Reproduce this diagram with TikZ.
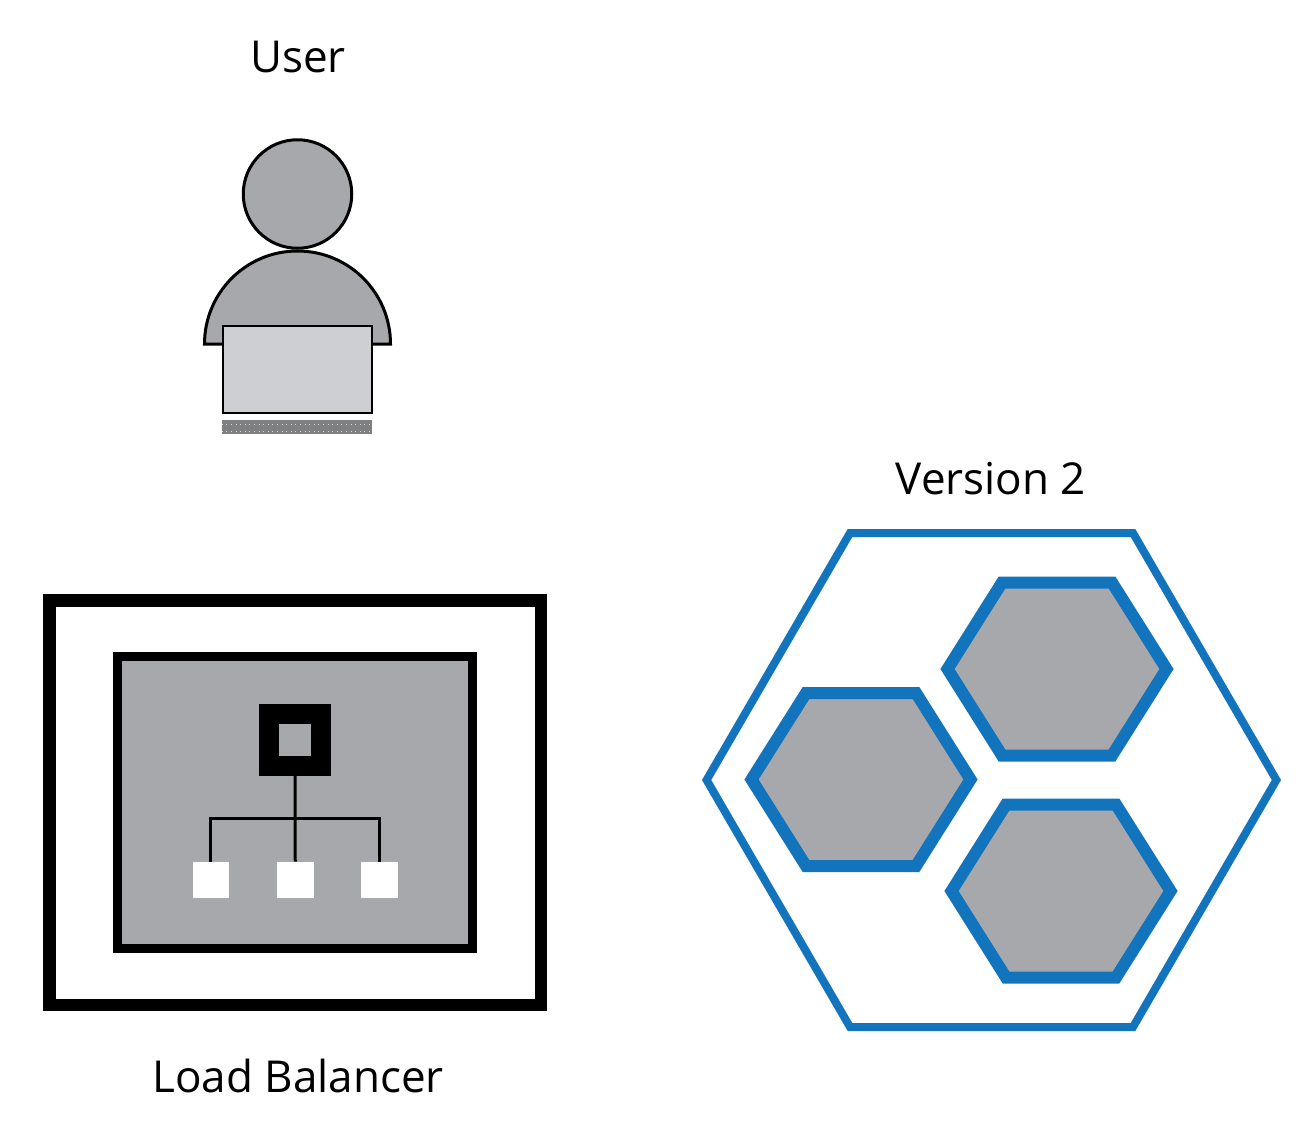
\documentclass[tikz,border=0pt]{standalone}
\usepackage{fontspec}
\setmainfont{Open Sans}
\definecolor{hexblue}{HTML}{1274BD}
\definecolor{midgrey}{HTML}{A7A8AB}
\definecolor{lightgrey}{HTML}{CDCFD3}
\definecolor{keygrey}{HTML}{7F8082}
\tikzset{
  label text/.style={inner sep=0pt,anchor=base,font=\fontsize{44}{44}\selectfont},
  outline/.style={draw=black,line width=3pt,fill=midgrey},
  frame box/.style={draw=black,rectangle,inner sep=0pt},
  leaf box/.style={rectangle,fill=white,inner sep=0pt,minimum width=36.5pt,minimum height=36.5pt},
  outer hex/.style={draw=hexblue,line width=8pt,miter limit=10},
  inner hex/.style={draw=hexblue,fill=midgrey,line width=12pt,miter limit=10},
  tree line/.style={draw=black,line width=3pt},
}
\newcommand{\smallhex}[2]{%
  \draw[inner hex,shift={(#1,#2)}] (-109.5,0) -- (-55,-86.5) -- (55,-86.5) -- (109.5,0) -- (55,86.5) -- (-55,86.5) -- cycle;}
\begin{document}
\begin{tikzpicture}[x=1pt,y=-1pt]
\useasboundingbox (0,0) rectangle (1314,1130);
% labels
\node[label text] (userlabel) at (298,72) {User};
\node[label text] (versionlabel) at (991,494) {Version 2};
\node[label text] (lblabel) at (298,1092) {Load Balancer};
% user
\draw[outline] (204.5,344) arc[start angle=180,end angle=360,radius=93] -- cycle;
\node[circle,outline,inner sep=0pt,minimum size=108.5pt] (head) at (297.5,194) {};
\node[frame box,fill=lightgrey,line width=1.6pt,minimum width=149pt,minimum height=87pt] (laptop) at (297.5,369.5) {};
\node[rectangle,fill=keygrey,inner sep=0pt,minimum width=150pt,minimum height=14pt] (keyboard) at (297,427) {};
\draw[white!70!keygrey,line width=.6pt,dash pattern=on .6pt off 4pt] (keyboard.west |- 0,424) -- (keyboard.east |- 0,424);
\draw[white!70!keygrey,line width=.6pt,dash pattern=on .6pt off 4pt] (keyboard.west |- 0,431) -- (keyboard.east |- 0,431);
% load balancer
\node[frame box,line width=12.5pt,minimum width=491.5pt,minimum height=404.5pt] (lbouter) at (295,802.5) {};
\node[frame box,fill=midgrey,line width=9pt,minimum width=355pt,minimum height=292pt] (lbinner) at (295,802.5) {};
\node[frame box,fill=midgrey,line width=20pt,minimum width=52pt,minimum height=52pt] (hub) at (295,740) {};
\node[leaf box] (leafa) at (210.75,880) {};
\node[leaf box] (leafb) at (295.25,880) {};
\node[leaf box] (leafc) at (379.25,880) {};
\coordinate (joint) at (295.25,818);
\draw[tree line] (hub.south) -- (leafb.north);
\draw[tree line,line cap=butt] (leafa.north) |- (joint) -| (leafc.north);
% version 2
\draw[outer hex] (706.6,780) -- (850,533) -- (1133,533) -- (1276.4,780) -- (1133,1027) -- (850,1027) -- cycle;
\smallhex{861}{779.5}
\smallhex{1057}{669}
\smallhex{1061}{891}
\end{tikzpicture}
\end{document}
